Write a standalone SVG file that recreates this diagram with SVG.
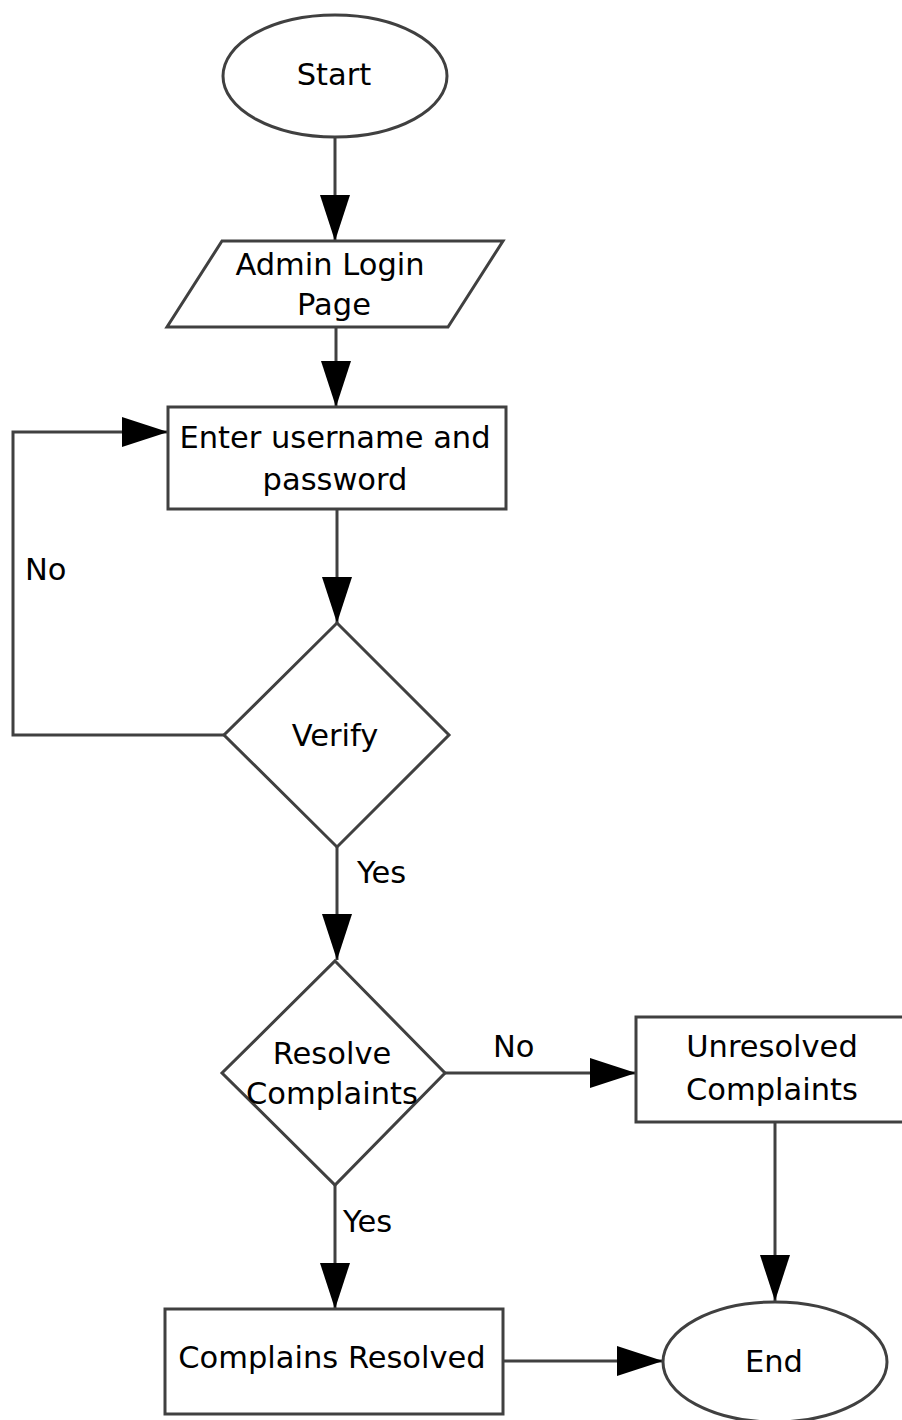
<svg xmlns="http://www.w3.org/2000/svg" width="902" height="1420" viewBox="0 0 902 1420">
  <style>
    .shape { fill: #ffffff; stroke: #404040; stroke-width: 3; }
    .edge { fill: none; stroke: #404040; stroke-width: 3; }
    text { font-family: "DejaVu Sans", "Liberation Sans", sans-serif; font-size: 30.5px; fill: #000000; }
    .c { text-anchor: middle; }
  </style>
  <defs>
    <marker id="arrow" markerUnits="userSpaceOnUse" markerWidth="48" markerHeight="32" refX="46" refY="15" orient="auto">
      <polygon points="0,0 46,15 0,30" fill="#000000"/>
    </marker>
  </defs>

  <g id="connectors">
    <path class="edge" d="M335,137 V241" marker-end="url(#arrow)"/>
    <path class="edge" d="M336,327 V407" marker-end="url(#arrow)"/>
    <path class="edge" d="M337,509 V623" marker-end="url(#arrow)"/>
    <path class="edge" d="M224,735 H13 V432 H168" marker-end="url(#arrow)"/>
    <path class="edge" d="M337,847 V960" marker-end="url(#arrow)"/>
    <path class="edge" d="M445,1073 H636" marker-end="url(#arrow)"/>
    <path class="edge" d="M335,1185 V1309" marker-end="url(#arrow)"/>
    <path class="edge" d="M775,1122 V1301" marker-end="url(#arrow)"/>
    <path class="edge" d="M503,1361 H663" marker-end="url(#arrow)"/>
    <text x="25" y="580">No</text>
    <text x="357" y="883">Yes</text>
    <text x="493" y="1057">No</text>
    <text x="343" y="1232">Yes</text>
  </g>

  <g id="start">
    <ellipse class="shape" cx="335" cy="76" rx="112" ry="61"/>
    <text class="c" x="334" y="85">Start</text>
  </g>

  <g id="login-page">
    <polygon class="shape" points="222,241 503,241 448,327 167,327"/>
    <text class="c" x="330" y="275">Admin Login</text>
    <text class="c" x="334" y="315">Page</text>
  </g>

  <g id="credentials">
    <rect class="shape" x="168" y="407" width="338" height="102"/>
    <text class="c" x="335" y="448">Enter username and</text>
    <text class="c" x="335" y="490">password</text>
  </g>

  <g id="verify">
    <polygon class="shape" points="337,623 449,735 337,847 224,735"/>
    <text class="c" x="335" y="746">Verify</text>
  </g>

  <g id="resolve">
    <polygon class="shape" points="335,961 445,1073 335,1185 222,1073"/>
    <text class="c" x="332" y="1064">Resolve</text>
    <text class="c" x="332" y="1104">Complaints</text>
  </g>

  <g id="unresolved">
    <rect class="shape" x="636" y="1017" width="272" height="105"/>
    <text class="c" x="772" y="1057">Unresolved</text>
    <text class="c" x="772" y="1100">Complaints</text>
  </g>

  <g id="resolved">
    <rect class="shape" x="165" y="1309" width="338" height="105"/>
    <text class="c" x="332" y="1368">Complains Resolved</text>
  </g>

  <g id="end">
    <ellipse class="shape" cx="775" cy="1362" rx="112" ry="60"/>
    <text class="c" x="774" y="1372">End</text>
  </g>
</svg>
